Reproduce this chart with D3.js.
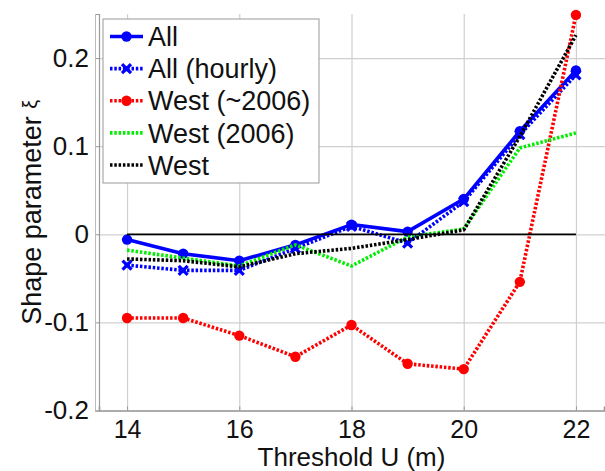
<!DOCTYPE html>
<html>
<head>
<meta charset="utf-8">
<script src="https://cdn.jsdelivr.net/npm/d3@7"></script>
<style>
  html, body { margin: 0; padding: 0; background: #fff; }
  svg { display: block; font-family: Arial, "Liberation Sans", Helvetica, sans-serif; }
</style>
</head>
<body>
<svg id="chart" width="605" height="471"></svg>
<script>
// Threshold values (m)
const thresholds = [14, 15, 16, 17, 18, 19, 20, 21, 22];

// Shape parameter estimates per series
const allSeries      = [-0.006, -0.022, -0.030, -0.012, 0.011, 0.003, 0.040, 0.117, 0.186];
const allHourly      = [-0.035, -0.041, -0.041, -0.016, 0.009, -0.010, 0.037, 0.113, 0.181];
const westPre2006    = [-0.095, -0.095, -0.115, -0.139, -0.103, -0.147, -0.153, -0.054, 0.249];
const west2006       = [-0.018, -0.027, -0.036, -0.012, -0.036, -0.003, 0.006, 0.098, 0.115];
const westAll        = [-0.028, -0.030, -0.037, -0.022, -0.016, -0.006, 0.005, 0.111, 0.226];

const seriesNames = ["All", "All (hourly)", "West (~2006)", "West (2006)", "West"];

// Axis ticks
const xTicks = [14, 16, 18, 20, 22];
const yTicks = [-0.2, -0.1, 0, 0.1, 0.2];
const yTickLabels = ["-0.2", "-0.1", "0", "0.1", "0.2"];

const svg = d3.select("#chart");
const plotLeft = 99, plotRight = 604, plotTop = 14, plotBottom = 410.5;

const x = d3.scaleLinear().domain([13.5, 22.5]).range([plotLeft, plotRight]);
const y = d3.scaleLinear().domain([-0.2, 0.25]).range([plotBottom, plotTop]);

// grid lines
svg.append("g")
  .attr("transform", `translate(0,${plotBottom})`)
  .call(d3.axisBottom(x).tickValues(xTicks).tickSize(-(plotBottom - plotTop)).tickFormat(""))
  .call(g => g.select(".domain").remove())
  .call(g => g.selectAll("line").attr("stroke", "#cfcfcf").attr("stroke-width", 1.2));

svg.append("g")
  .attr("transform", `translate(${plotLeft},0)`)
  .call(d3.axisLeft(y).tickValues(yTicks).tickSize(-(plotRight - plotLeft + 5)).tickFormat(""))
  .call(g => g.select(".domain").remove())
  .call(g => g.selectAll("line").attr("stroke", "#cfcfcf").attr("stroke-width", 1.2));

// axes
const xAxis = svg.append("g")
  .attr("transform", `translate(0,${plotBottom})`)
  .call(d3.axisBottom(x).tickValues(xTicks).tickSize(-4).tickPadding(10).tickFormat(d3.format("d")));
xAxis.select(".domain").attr("stroke", "#999").attr("stroke-width", 1.6);
xAxis.selectAll(".tick line").attr("stroke", "#999");
xAxis.selectAll("text").attr("font-size", 25).attr("fill", "#111")
  .attr("font-family", "Arial, 'Liberation Sans', sans-serif");

const yAxis = svg.append("g")
  .attr("transform", `translate(${plotLeft},0)`)
  .call(d3.axisLeft(y).tickValues(yTicks).tickSize(4).tickPadding(6)
    .tickFormat((d, i) => yTickLabels[i]));
yAxis.select(".domain").attr("stroke", "#999").attr("stroke-width", 1.2);
yAxis.selectAll(".tick line").attr("stroke", "#999");
yAxis.selectAll("text").attr("font-size", 26).attr("fill", "#111")
  .attr("font-family", "Arial, 'Liberation Sans', sans-serif");
// second thin rule beside the y axis
svg.append("line").attr("x1", plotLeft - 3.5).attr("x2", plotLeft - 3.5)
  .attr("y1", plotTop).attr("y2", plotBottom).attr("stroke", "#bbb").attr("stroke-width", 1);

// axis titles
svg.append("text")
  .attr("x", (plotLeft + plotRight) / 2).attr("y", 466)
  .attr("text-anchor", "middle").attr("font-size", 26).attr("fill", "#111")
  .text("Threshold U (m)");

const yTitle = svg.append("text")
  .attr("transform", `translate(41,${(plotTop + plotBottom) / 2}) rotate(-90)`)
  .attr("text-anchor", "middle").attr("font-size", 27).attr("fill", "#111");
yTitle.append("tspan").text("Shape parameter ");
yTitle.append("tspan").attr("font-size", 20).attr("dy", -4).text("ξ");

// series styles
const styles = [
  { data: allSeries,   color: "#0000ff", dash: null,    width: 3.6, marker: "circle" },
  { data: allHourly,   color: "#0000ff", dash: "2.5,1.8", width: 3.6, marker: "x" },
  { data: westPre2006, color: "#ff0000", dash: "2.5,1.8", width: 3.6, marker: "circle" },
  { data: west2006,    color: "#00ee00", dash: "2.5,1.8", width: 3.6, marker: null },
  { data: westAll,     color: "#000000", dash: "2.5,1.8", width: 3.6, marker: null }
];

const line = d3.line().x((d, i) => x(thresholds[i])).y(d => y(d));

function drawMarker(g, kind, cx, cy, color) {
  if (kind === "circle") {
    g.append("circle").attr("cx", cx).attr("cy", cy).attr("r", 5.2).attr("fill", color);
  } else if (kind === "x") {
    const s = 4.5;
    g.append("path")
      .attr("d", `M${cx - s},${cy - s}L${cx + s},${cy + s}M${cx - s},${cy + s}L${cx + s},${cy - s}`)
      .attr("stroke", color).attr("stroke-width", 3.2).attr("fill", "none");
    g.append("circle").attr("cx", cx).attr("cy", cy).attr("r", 2.6).attr("fill", color);
  }
}

const plot = svg.append("g");
styles.forEach(s => {
  const g = plot.append("g");
  g.append("path").datum(s.data)
    .attr("d", line).attr("fill", "none")
    .attr("stroke", s.color).attr("stroke-width", s.width)
    .attr("stroke-dasharray", s.dash).attr("stroke-linejoin", "round");
  if (s.marker) s.data.forEach((v, i) => drawMarker(g, s.marker, x(thresholds[i]), y(v), s.color));
});

// zero reference line
svg.append("line")
  .attr("x1", x(14)).attr("x2", x(22)).attr("y1", y(0)).attr("y2", y(0))
  .attr("stroke", "#000").attr("stroke-width", 1.8);

// legend
const lg = svg.append("g");
const lgX = 103, lgY = 19, lgW = 216, lgH = 164;
lg.append("rect").attr("x", lgX).attr("y", lgY).attr("width", lgW).attr("height", lgH)
  .attr("fill", "#fff").attr("stroke", "#aaa").attr("stroke-width", 1.2);
const rowY = d3.scalePoint().domain(seriesNames).range([36.5, 165]);
seriesNames.forEach((name, i) => {
  const s = styles[i], cy = rowY(name);
  lg.append("line").attr("x1", 110).attr("x2", 143).attr("y1", cy).attr("y2", cy)
    .attr("stroke", s.color).attr("stroke-width", s.width).attr("stroke-dasharray", s.dash);
  if (s.marker) drawMarker(lg, s.marker, 126.5, cy, s.color);
  lg.append("text").attr("x", 148).attr("y", cy).attr("dy", "0.36em")
    .attr("font-size", 27).attr("fill", "#111").text(name);
});
</script>
</body>
</html>
